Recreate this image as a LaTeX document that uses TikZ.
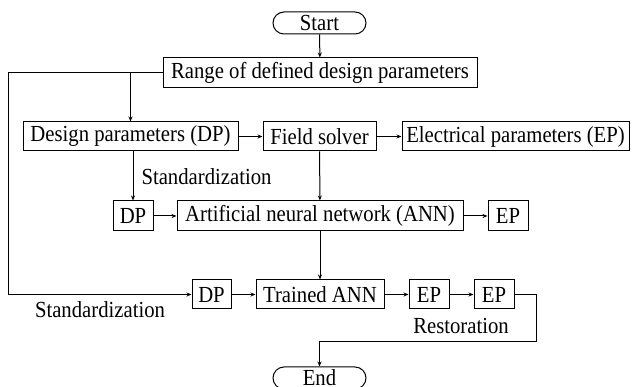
\documentclass[tikz,border=0pt]{standalone}
\usepackage{fontspec}
\setmainfont{Liberation Serif}[FakeStretch=0.9]
\usetikzlibrary{arrows.meta}
\tikzset{
    box/.style={draw, line width=1pt, inner xsep=2pt, inner ysep=0pt, minimum height=29pt},
    term/.style={box, rounded corners=11pt, minimum height=22pt},
    flow/.style={line width=1pt, -{Stealth[length=5pt,width=4pt]}},
}
\begin{document}
\begin{tikzpicture}[x=1pt, y=-1pt, font=\fontsize{23}{26}\selectfont]
\useasboundingbox (0,0) rectangle (633,387);
\node[term, minimum width=93pt] (start) at (319.5,23) {Start};
\node[box, minimum width=314pt, minimum height=30pt] (range) at (320,73) {Range of defined design parameters};
\node[box, minimum width=215pt] (design) at (130.5,136.5) {Design parameters (DP)};
\node[box, minimum width=113pt] (field) at (319.5,136.5) {Field solver};
\node[box, minimum width=227pt] (elec) at (515.5,136.5) {Electrical parameters (EP)};
\node[box, minimum width=40pt, minimum height=30pt] (dp1) at (133,216) {DP};
\node[box, minimum width=286pt, minimum height=30pt] (ann) at (320,216) {Artificial neural network (ANN)};
\node[box, minimum width=40pt, minimum height=30pt] (ep1) at (508,216) {EP};
\node[box, minimum width=39pt] (dp2) at (211.5,294.5) {DP};
\node[box, minimum width=128pt] (trained) at (320,294.5) {Trained ANN};
\node[box, minimum width=40pt] (ep2) at (429,294.5) {EP};
\node[box, minimum width=40pt] (ep3) at (494,294.5) {EP};
\node[term, minimum width=93pt] (end) at (319.5,378) {End};
\node (std1) at (206.5,177) {Standardization};
\node (std2) at (100,310) {Standardization};
\node (rest) at (461,326) {Restoration};
\coordinate (lft) at (8,294.5);
\coordinate (rgt) at (536,342);
\draw[flow] (start) -- (range);
\draw[flow] (range.west) -| (lft) -- (dp2.west);
\draw[flow] (design.north |- range.west) -- (design.north);
\draw[flow] (dp1.north |- design.south) -- (dp1.north);
\draw[flow] (field) -- (ann);
\draw[flow] (ann) -- (trained);
\foreach \a/\b in {design/field, field/elec, dp1/ann, ann/ep1, dp2/trained, trained/ep2, ep2/ep3}{
    \draw[flow] (\a.east) -- (\b.west);
}
\draw[flow] (ep3.east) -| (rgt) -| (end.north);
\end{tikzpicture}
\end{document}
